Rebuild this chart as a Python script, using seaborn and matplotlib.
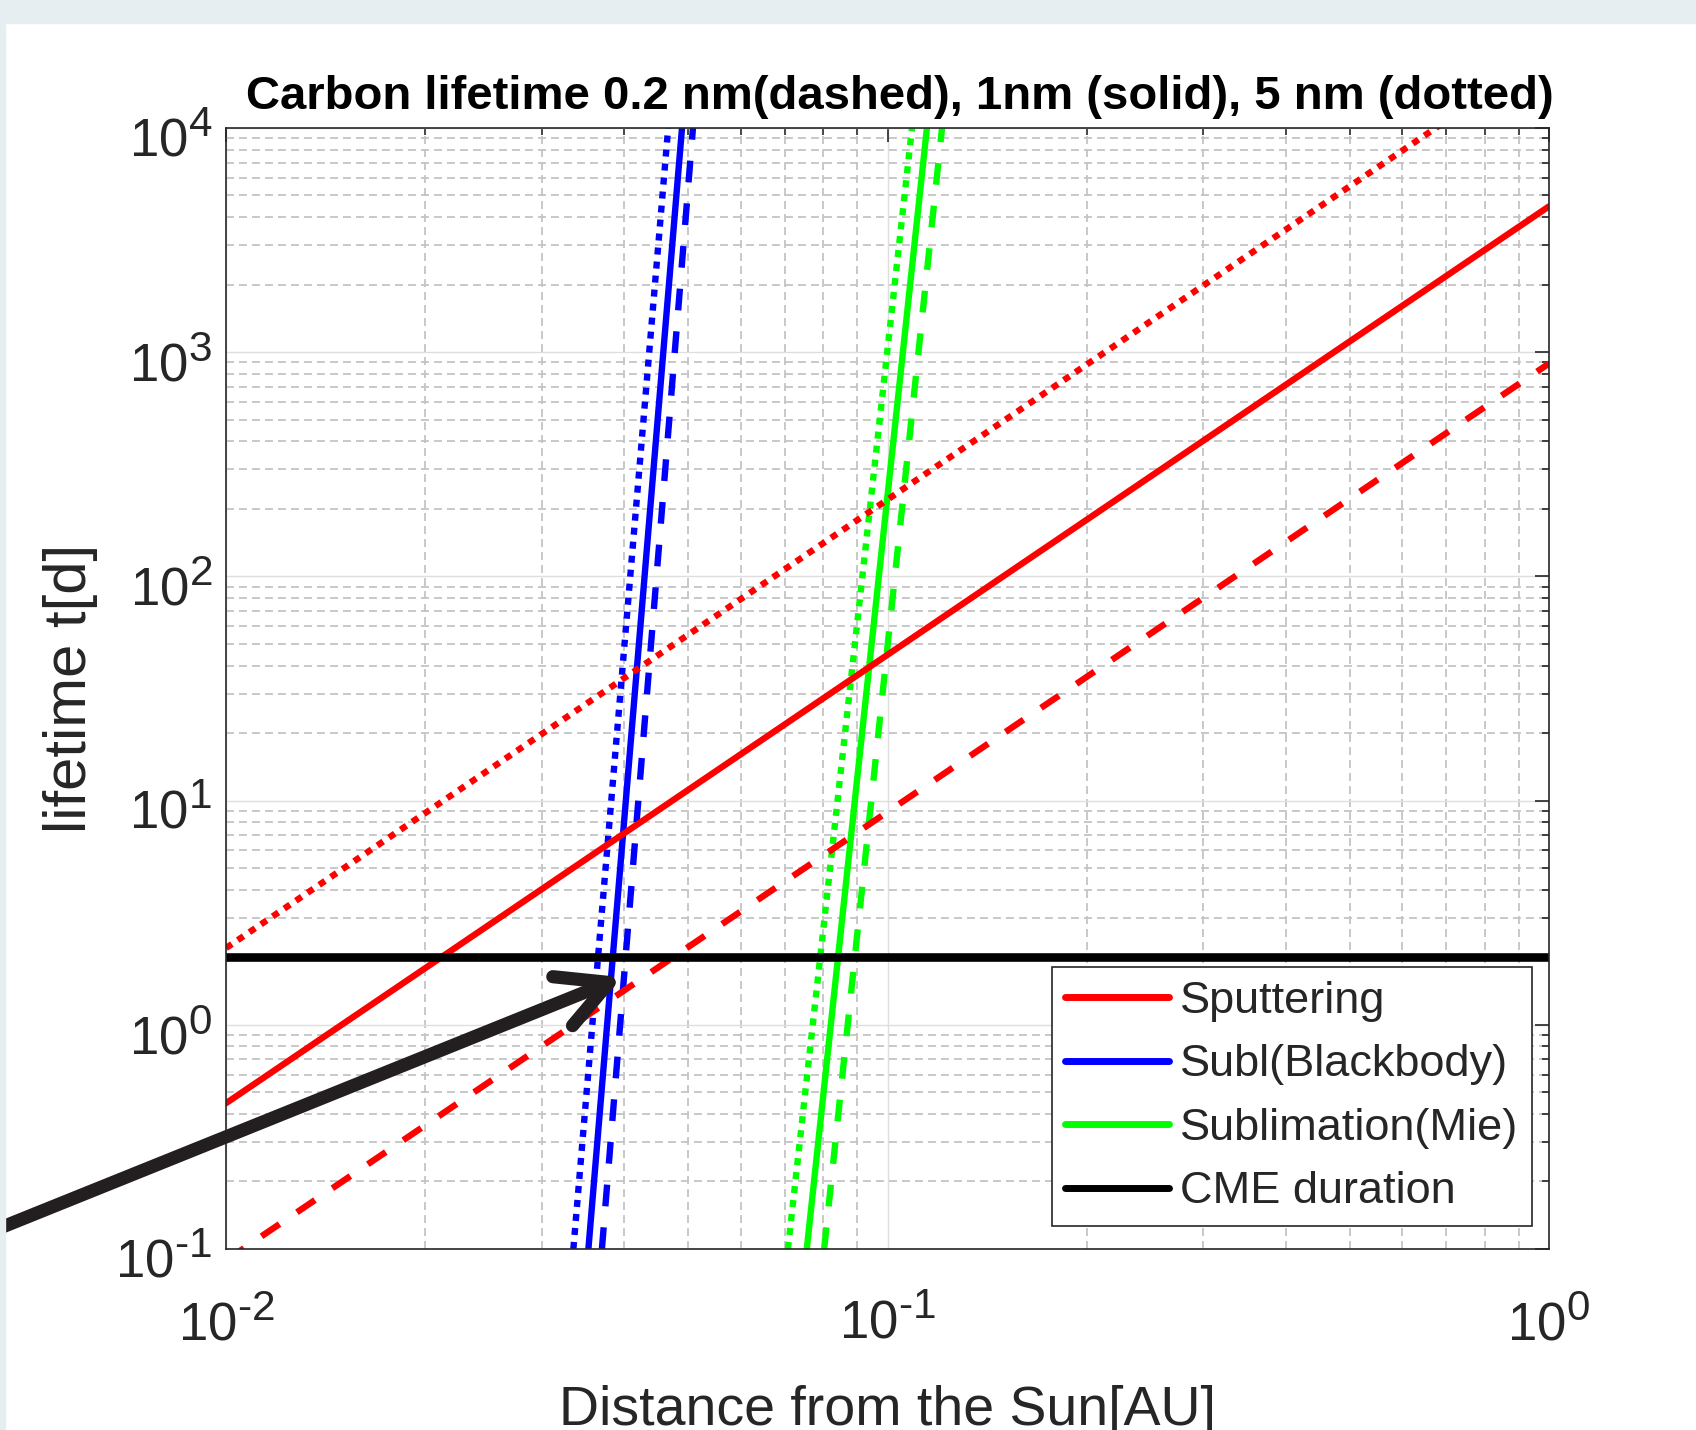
import numpy as np
import pandas as pd
import seaborn as sns
import matplotlib.pyplot as plt
import matplotlib.transforms as mtransforms
import matplotlib.ticker as mticker
import matplotlib._mathtext as mathtext_internal
from matplotlib.patches import Rectangle
from matplotlib.lines import Line2D

# values
# sputtering: lifetime ~ r^2, given at the ends of the distance axis
sput_r = [0.01, 1.0]
sput_dashed = [0.089, 890]     # 0.2 nm
sput_solid = [0.447, 4470]     # 1 nm
sput_dotted = [2.2, 22000]     # 5 nm

# sublimation lines: distance where lifetime reaches 0.1 d and 1e4 d
subl_t = [0.1, 1e4]
bb_dashed = [0.0370, 0.0508]
bb_solid = [0.0353, 0.0489]
bb_dotted = [0.0335, 0.0466]
mie_dashed = [0.0802, 0.1209]
mie_solid = [0.0755, 0.1147]
mie_dotted = [0.0707, 0.1089]

cme_r = [0.01, 1.0]
cme_t = [2.0, 2.0]

legend_labels = ['Sputtering', 'Subl(Blackbody)', 'Sublimation(Mie)', 'CME duration']

sns.set_style('white')
plt.rcParams['font.family'] = ['Liberation Sans', 'DejaVu Sans']
plt.rcParams['mathtext.fontset'] = 'custom'
plt.rcParams['mathtext.rm'] = 'Liberation Sans'
# bigger exponents, closer to the MATLAB look
mathtext_internal.SHRINK_FACTOR = 0.8

dark = '#262626'
dashed = (0, (3.4, 3.3))
dotted = (0, (1.1, 1.1))
lw = 4.6

fig = plt.figure(figsize=(16.96, 14.30), dpi=100)
ax = fig.add_axes([0.1333, 0.1266, 0.78, 0.7839])

# light frame band from the screenshot
fig.patches.append(Rectangle((0, 1 - 23 / 1430), 1, 23 / 1430, transform=fig.transFigure,
                             color='#E6EEF2', zorder=0))
fig.patches.append(Rectangle((0, 0), 5 / 1696, 1, transform=fig.transFigure,
                             color='#E6EEF2', zorder=0))

ax.set_xscale('log')
ax.set_yscale('log')

sets = [
    (mie_dashed, mie_solid, mie_dotted, '#00FF00'),
    (bb_dashed, bb_solid, bb_dotted, '#0000FF'),
]
for d, s, o, c in sets:
    sns.lineplot(x=d, y=subl_t, ax=ax, color=c, lw=lw, linestyle=dashed)
    sns.lineplot(x=s, y=subl_t, ax=ax, color=c, lw=lw)
    sns.lineplot(x=o, y=subl_t, ax=ax, color=c, lw=lw, linestyle=dotted)

sns.lineplot(x=sput_r, y=sput_dashed, ax=ax, color='#FF0000', lw=lw, linestyle=dashed)
sns.lineplot(x=sput_r, y=sput_solid, ax=ax, color='#FF0000', lw=lw)
sns.lineplot(x=sput_r, y=sput_dotted, ax=ax, color='#FF0000', lw=lw, linestyle=dotted)
sns.lineplot(x=cme_r, y=cme_t, ax=ax, color='black', lw=6.2)

ax.set_xlim(0.01, 1)
ax.set_ylim(0.1, 1e4)


def pow10(v, pos):
    e = int(round(np.log10(v)))
    if e < 0:
        return r'$\mathregular{10^{\text{-}%d}}$' % (-e)
    return r'$\mathregular{10^{%d}}$' % e


ax.xaxis.set_major_formatter(mticker.FuncFormatter(pow10))
ax.yaxis.set_major_formatter(mticker.FuncFormatter(pow10))

ax.grid(which='major', color='#DEDEDE', lw=1.0, ls='-')
ax.grid(which='minor', color='#C4C4C4', lw=1.3, ls=(0, (4.4, 2.8)))
ax.set_axisbelow(True)

ax.tick_params(which='both', direction='in', top=True, right=True, color=dark, width=1.2)
ax.tick_params(which='major', length=10, labelsize=38, labelcolor=dark)
ax.tick_params(which='minor', length=5)
ax.tick_params(axis='x', which='major', pad=34)
ax.tick_params(axis='y', which='major', pad=10)
for sp in ax.spines.values():
    sp.set_color(dark)
    sp.set_linewidth(1.2)
    sp.set_visible(True)

ax.set_title('Carbon lifetime 0.2 nm(dashed), 1nm (solid), 5 nm (dotted)',
             fontsize=34, fontweight='bold', color='black', pad=14, x=0.509)
ax.set_xlabel('Distance from the Sun[AU]', fontsize=40, color=dark)
ax.set_ylabel('lifetime t[d]', fontsize=43, color=dark)
ax.xaxis.set_label_coords(0.5, -0.121)
ax.yaxis.set_label_coords(-0.097, 0.5)

# nudge y tick labels down a little
shift = mtransforms.ScaledTranslation(0, -7 / 100, fig.dpi_scale_trans)
for t in ax.yaxis.get_major_ticks():
    t.label1.set_transform(t.label1.get_transform() + shift)

handles = [Line2D([], [], color=c, lw=5) for c in ['#FF0000', '#0000FF', '#00FF00', 'black']]
leg = ax.legend(handles, legend_labels, loc='lower right', bbox_to_anchor=(0.9872, 0.0205),
                borderaxespad=0, fontsize=32.5, handlelength=2.3, handletextpad=0.25,
                labelspacing=0.5, borderpad=0.3, fancybox=False, framealpha=1,
                edgecolor=dark)
leg.get_frame().set_linewidth(1.2)

ax.annotate('', xy=(0.0397, 1.63), xycoords='data', xytext=(-20, 194),
            textcoords='figure pixels', annotation_clip=False,
            arrowprops=dict(arrowstyle='->,head_length=1.8,head_width=0.95', lw=9.5,
                            color='#231F20', shrinkA=0, shrinkB=0, mutation_scale=20))

plt.savefig('out.png', dpi=100)
